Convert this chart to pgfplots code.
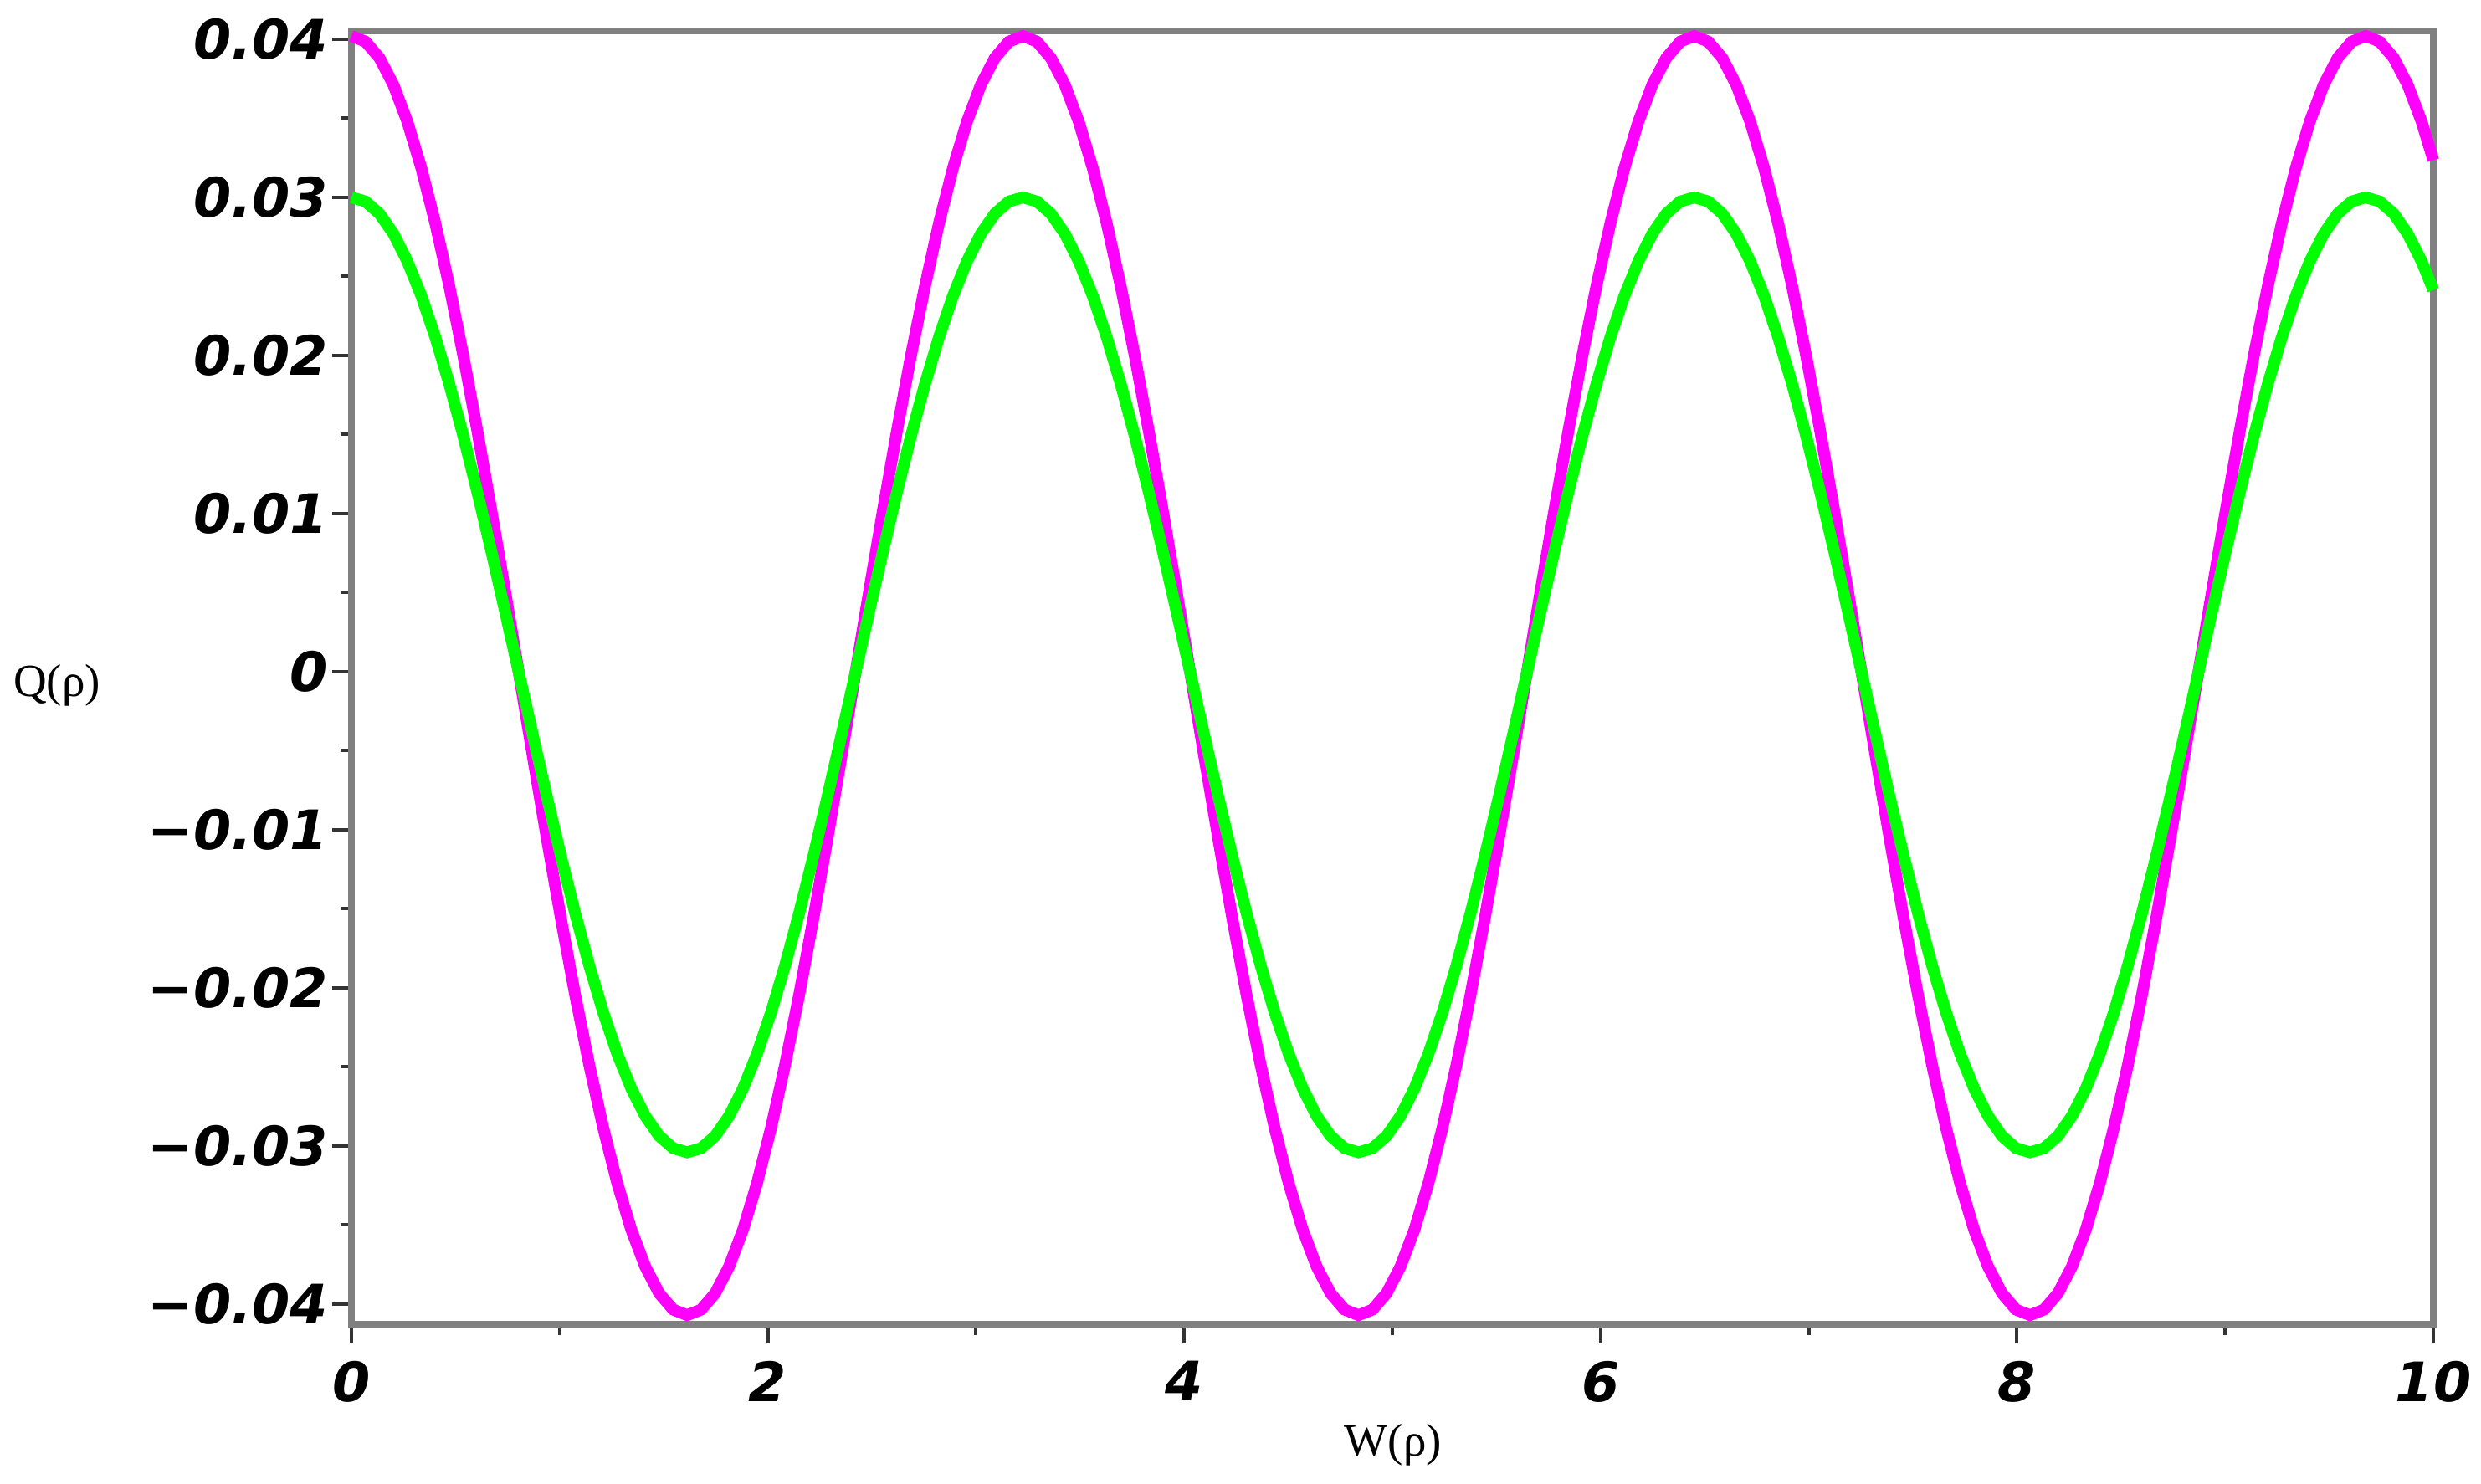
\documentclass[border=0pt]{standalone}
\usepackage{fontspec}
\setmainfont{Liberation Serif}
\newfontfamily\tickfont{DejaVu Sans}
\usepackage{pgfplots}
\pgfplotsset{compat=1.18}
\usepackage{pgfplotstable}
\definecolor{mag}{RGB}{255,0,255}
\definecolor{grn}{RGB}{0,255,0}
\definecolor{axgray}{RGB}{128,128,128}

\pgfplotstableread{
x M G
0 0.04020 0.03000
0.0672 0.03985 0.02974
0.1344 0.03882 0.02897
0.2016 0.03712 0.02770
0.2688 0.03478 0.02595
0.3359 0.03184 0.02376
0.4031 0.02835 0.02115
0.4703 0.02437 0.01818
0.5375 0.01998 0.01490
0.6047 0.01523 0.01136
0.6719 0.01022 0.00762
0.7391 0.00503 0.00374
0.8063 -0.00025 -0.00020
0.8734 -0.00553 -0.00414
0.9406 -0.01072 -0.00802
1.0078 -0.01573 -0.01176
1.0750 -0.02048 -0.01530
1.1422 -0.02487 -0.01858
1.2094 -0.02885 -0.02155
1.2766 -0.03234 -0.02416
1.3438 -0.03528 -0.02635
1.4109 -0.03762 -0.02810
1.4781 -0.03932 -0.02937
1.5453 -0.04035 -0.03014
1.6125 -0.04070 -0.03040
1.6797 -0.04035 -0.03014
1.7469 -0.03932 -0.02937
1.8141 -0.03762 -0.02810
1.8813 -0.03528 -0.02635
1.9484 -0.03234 -0.02416
2.0156 -0.02885 -0.02155
2.0828 -0.02487 -0.01858
2.1500 -0.02048 -0.01530
2.2172 -0.01573 -0.01176
2.2844 -0.01072 -0.00802
2.3516 -0.00553 -0.00414
2.4188 -0.00025 -0.00020
2.4859 0.00503 0.00374
2.5531 0.01022 0.00762
2.6203 0.01523 0.01136
2.6875 0.01998 0.01490
2.7547 0.02437 0.01818
2.8219 0.02835 0.02115
2.8891 0.03184 0.02376
2.9563 0.03478 0.02595
3.0234 0.03712 0.02770
3.0906 0.03882 0.02897
3.1578 0.03985 0.02974
3.2250 0.04020 0.03000
3.2922 0.03985 0.02974
3.3594 0.03882 0.02897
3.4266 0.03712 0.02770
3.4938 0.03478 0.02595
3.5609 0.03184 0.02376
3.6281 0.02835 0.02115
3.6953 0.02437 0.01818
3.7625 0.01998 0.01490
3.8297 0.01523 0.01136
3.8969 0.01022 0.00762
3.9641 0.00503 0.00374
4.0313 -0.00025 -0.00020
4.0984 -0.00553 -0.00414
4.1656 -0.01072 -0.00802
4.2328 -0.01573 -0.01176
4.3000 -0.02048 -0.01530
4.3672 -0.02487 -0.01858
4.4344 -0.02885 -0.02155
4.5016 -0.03234 -0.02416
4.5688 -0.03528 -0.02635
4.6359 -0.03762 -0.02810
4.7031 -0.03932 -0.02937
4.7703 -0.04035 -0.03014
4.8375 -0.04070 -0.03040
4.9047 -0.04035 -0.03014
4.9719 -0.03932 -0.02937
5.0391 -0.03762 -0.02810
5.1063 -0.03528 -0.02635
5.1734 -0.03234 -0.02416
5.2406 -0.02885 -0.02155
5.3078 -0.02487 -0.01858
5.3750 -0.02048 -0.01530
5.4422 -0.01573 -0.01176
5.5094 -0.01072 -0.00802
5.5766 -0.00553 -0.00414
5.6438 -0.00025 -0.00020
5.7109 0.00503 0.00374
5.7781 0.01022 0.00762
5.8453 0.01523 0.01136
5.9125 0.01998 0.01490
5.9797 0.02437 0.01818
6.0469 0.02835 0.02115
6.1141 0.03184 0.02376
6.1813 0.03478 0.02595
6.2484 0.03712 0.02770
6.3156 0.03882 0.02897
6.3828 0.03985 0.02974
6.4500 0.04020 0.03000
6.5172 0.03985 0.02974
6.5844 0.03882 0.02897
6.6516 0.03712 0.02770
6.7188 0.03478 0.02595
6.7859 0.03184 0.02376
6.8531 0.02835 0.02115
6.9203 0.02437 0.01818
6.9875 0.01998 0.01490
7.0547 0.01523 0.01136
7.1219 0.01022 0.00762
7.1891 0.00503 0.00374
7.2563 -0.00025 -0.00020
7.3234 -0.00553 -0.00414
7.3906 -0.01072 -0.00802
7.4578 -0.01573 -0.01176
7.5250 -0.02048 -0.01530
7.5922 -0.02487 -0.01858
7.6594 -0.02885 -0.02155
7.7266 -0.03234 -0.02416
7.7938 -0.03528 -0.02635
7.8609 -0.03762 -0.02810
7.9281 -0.03932 -0.02937
7.9953 -0.04035 -0.03014
8.0625 -0.04070 -0.03040
8.1297 -0.04035 -0.03014
8.1969 -0.03932 -0.02937
8.2641 -0.03762 -0.02810
8.3313 -0.03528 -0.02635
8.3984 -0.03234 -0.02416
8.4656 -0.02885 -0.02155
8.5328 -0.02487 -0.01858
8.6000 -0.02048 -0.01530
8.6672 -0.01573 -0.01176
8.7344 -0.01072 -0.00802
8.8016 -0.00553 -0.00414
8.8688 -0.00025 -0.00020
8.9359 0.00503 0.00374
9.0031 0.01022 0.00762
9.0703 0.01523 0.01136
9.1375 0.01998 0.01490
9.2047 0.02437 0.01818
9.2719 0.02835 0.02115
9.3391 0.03184 0.02376
9.4063 0.03478 0.02595
9.4734 0.03712 0.02770
9.5406 0.03882 0.02897
9.6078 0.03985 0.02974
9.6750 0.04020 0.03000
9.7422 0.03985 0.02974
9.8094 0.03882 0.02897
9.8766 0.03712 0.02770
9.9438 0.03478 0.02595
10.000 0.03235 0.02414
}\data

\begin{document}
\begin{tikzpicture}
\useasboundingbox (-84pt,-38.1pt) rectangle (509pt,316.7pt);
\begin{axis}[
  at={(0,0)}, anchor=south west,
  scale only axis, width=497.6pt, height=309.2pt,
  xmin=0, xmax=10, ymin=-0.0413, ymax=0.0405,
  axis line style={axgray, line width=1.6pt},
  tick align=outside, tick pos=left,
  major tick length=4.5pt, minor tick length=2.5pt,
  every tick/.style={black!80, line width=0.8pt},
  xtick={0,2,4,6,8,10}, minor xtick={1,3,5,7,9},
  xticklabels={0,2,4,6,8,10},
  ytick={-0.04,-0.03,-0.02,-0.01,0,0.01,0.02,0.03,0.04},
  minor ytick={-0.035,-0.025,-0.015,-0.005,0.005,0.015,0.025,0.035},
  yticklabels={−0.04,−0.03,−0.02,−0.01,0,0.01,0.02,0.03,0.04},
  ticklabel style={font=\tickfont\bfseries\itshape\fontsize{13}{13}\selectfont, inner sep=1pt},
  xticklabel style={yshift=-3pt},
  every axis x label/.style={at={(axis description cs:0.5003,-0.093)}, anchor=center, font=\fontsize{11}{12}\selectfont},
  every axis y label/.style={at={(axis description cs:-0.1415,0.494)}, anchor=center, rotate=0, font=\fontsize{11}{12}\selectfont},
  xlabel={W(ρ)}, ylabel={Q(ρ)},
  clip=false,
]
\addplot[mag, line width=2.8pt] table[x=x, y=M] {\data};
\addplot[grn, line width=2.8pt] table[x=x, y=G] {\data};
\end{axis}
\end{tikzpicture}
\end{document}
